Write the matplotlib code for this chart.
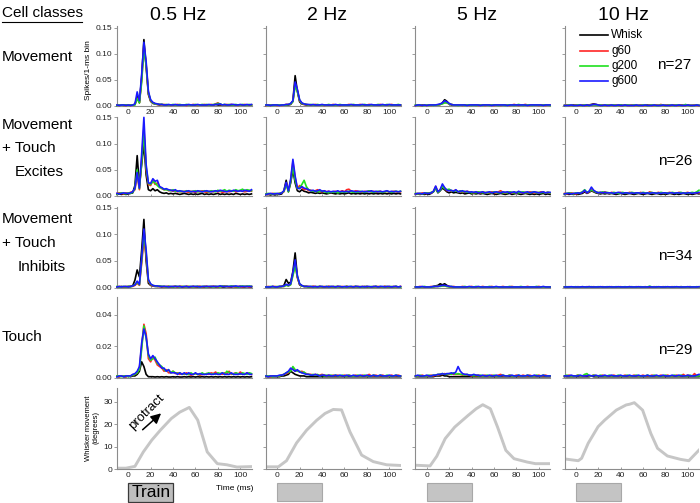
import numpy as np
import matplotlib
matplotlib.use('Agg')
import matplotlib.pyplot as plt
from matplotlib.patches import Rectangle
from matplotlib.lines import Line2D
import matplotlib.transforms as mtransforms

plt.rcParams['font.family'] = ['Liberation Sans', 'DejaVu Sans']

# ---------------- labels ----------------
freq_titles = ['0.5 Hz', '2 Hz', '5 Hz', '10 Hz']
series_names = ['Whisk', 'g60', 'g200', 'g600']
series_colors = ['#000000', '#ff2626', '#1fe01f', '#1a1aff']
cell_counts = [27, 26, 34, 29]
x_ticks = [0, 20, 40, 60, 80, 100]
train_start, train_end = 0, 40

# PSTH time bins (ms) and values in units of 0.001 spikes / 1-ms bin
time_ms = np.arange(-10, 111, 2)
psth_unit = 1e-3

# ---- Movement cells ----
mov05_whisk = [1,2,1,1,2,1,2,1,3,18, 6,55,127,75,22,9,5,4,3,2, 3,2,2,1,2,2,1,2,1,2,
               1,2,1,2,1,1,2,1,2,1, 2,1,2,2,3,2,2,1,2,1, 2,1,1,2,1,2,1,1,2,1,2]
mov05_g60 = [2,1,2,1,1,2,1,2,3,15, 7,50,115,80,25,10,6,4,3,3, 2,3,2,2,1,2,2,3,2,2,
             2,1,2,2,3,2,1,2,2,3, 2,2,3,2,4,6,3,2,2,3, 2,3,2,2,1,2,2,3,2,2,2]
mov05_g200 = [1,2,2,1,2,1,2,2,2,14, 6,45,110,78,26,11,6,4,4,3, 3,2,3,2,2,3,2,2,3,2,
              2,3,2,2,2,3,2,2,3,2, 3,2,2,3,3,5,4,2,3,2, 3,2,2,3,2,2,3,2,2,3,2]
mov05_g600 = [2,1,2,2,1,2,1,2,4,27, 10,60,122,85,28,12,7,5,4,3, 3,2,2,3,2,2,3,2,2,2,
              2,2,3,2,2,2,3,2,2,2, 2,3,2,2,3,3,4,2,3,2, 2,3,3,2,2,3,2,2,3,2,3]

mov2_whisk = [1,1,2,1,1,2,1,1,2,2, 2,3,10,58,28,8,4,3,2,2, 2,1,2,2,1,2,1,2,1,1,
              2,1,1,2,1,2,1,1,2,1, 1,2,1,1,2,1,1,2,1,1, 2,1,1,2,1,1,2,1,2,1,1]
mov2_g60 = [1,2,1,2,2,1,2,1,2,3, 3,4,9,42,30,10,5,3,3,2, 2,2,3,2,2,2,1,2,2,2,
            3,2,2,1,2,2,2,3,2,2, 2,2,3,2,2,2,3,2,2,2, 2,3,2,2,2,2,3,2,2,2,2]
mov2_g200 = [2,1,2,1,2,2,2,2,2,2, 3,4,8,38,28,11,5,4,3,2, 3,2,2,3,2,2,2,2,3,2,
             2,2,2,3,2,2,2,2,2,3, 2,2,2,2,3,2,2,2,2,2, 3,2,2,2,3,2,2,2,2,3,2]
mov2_g600 = [2,2,1,2,2,2,1,2,2,3, 3,5,10,46,32,12,6,4,3,3, 2,3,2,2,2,3,2,2,2,2,
             2,3,2,2,2,2,2,2,3,2, 2,2,2,3,2,2,2,3,2,2, 2,2,3,2,2,3,2,2,2,2,2]

mov5_whisk = [1,1,1,2,1,1,1,2,1,2, 2,3,6,12,9,4,2,2,1,2, 1,1,2,1,1,1,2,1,1,1,
              1,2,1,1,1,2,1,1,1,2, 1,1,1,2,1,1,1,1,2,1, 1,1,2,1,1,1,1,2,1,1,1]
mov5_g60 = [1,2,1,1,2,1,2,1,2,2, 2,3,5,7,6,4,3,2,2,2, 2,1,2,2,1,2,2,2,1,2,
            2,1,2,2,2,1,2,2,1,2, 2,2,1,2,3,2,1,2,2,3, 2,1,2,2,2,1,2,2,1,2,2]
mov5_g200 = [2,1,2,1,1,2,1,2,1,2, 2,3,4,6,6,4,3,2,2,1, 2,2,1,2,2,1,2,1,2,2,
             1,2,2,1,2,2,2,1,2,2, 1,2,2,2,1,2,3,2,1,2, 2,2,1,2,2,2,1,2,2,2,1]
mov5_g600 = [1,2,2,1,2,1,2,2,2,2, 3,4,6,10,8,5,3,2,2,2, 2,2,2,1,2,2,2,2,2,1,
             2,2,2,2,1,2,2,2,2,2, 2,1,2,2,2,2,2,2,2,2, 1,2,2,2,2,2,2,1,2,2,2]

mov10_whisk = [1,1,1,1,2,1,1,1,1,1, 2,2,3,4,3,2,1,1,1,1, 1,1,1,1,1,2,1,1,1,1,
               1,1,1,1,1,1,1,2,1,1, 1,1,1,1,1,1,1,1,1,1, 1,1,2,1,1,1,1,1,1,1,1]
mov10_g60 = [1,2,1,1,1,2,1,1,2,1, 1,2,2,3,2,2,1,2,1,1, 2,1,1,2,1,1,1,2,1,1,
             2,1,1,1,2,1,1,1,2,1, 1,2,1,3,1,1,2,1,1,2, 1,1,2,1,1,2,1,1,2,1,1]
mov10_g200 = [1,1,2,1,1,1,2,1,1,2, 1,1,2,2,2,1,2,1,1,2, 1,1,2,1,1,2,1,1,2,1,
              1,2,1,1,1,2,1,1,1,2, 1,1,1,2,1,1,1,2,1,1, 2,1,1,1,3,1,1,1,1,2,1]
mov10_g600 = [1,1,1,2,1,1,1,2,1,1, 2,1,2,3,3,2,1,1,2,1, 1,2,1,1,2,1,1,2,1,1,
              1,1,2,1,1,1,2,1,1,1, 2,1,1,1,2,1,1,1,2,1, 1,2,1,1,1,2,1,1,1,2,1]

# ---- Movement + Touch Excites ----
exc05_whisk = [3,4,3,4,3,4,5,6,20,77, 20,60,100,40,12,10,14,10,12,8, 6,5,6,4,5,4,5,4,3,4,
               5,4,3,4,3,4,3,4,5,3, 4,3,4,3,4,5,3,4,3,4, 3,4,3,5,4,3,4,3,4,3,4]
exc05_g60 = [5,6,5,4,6,5,7,8,12,40, 12,70,130,50,22,20,30,22,25,18, 14,12,13,10,11,9,10,8,9,8,
             9,8,7,9,8,7,9,8,10,8, 7,8,9,8,10,8,9,7,8,9, 8,9,10,8,9,10,9,8,9,10,9]
exc05_g200 = [4,5,6,5,4,6,5,7,14,50, 14,65,120,55,24,22,28,25,20,16, 15,12,12,11,10,12,9,10,8,9,
              8,10,9,8,9,10,8,9,8,10, 9,8,10,9,8,11,9,10,12,9, 11,10,9,12,10,11,13,10,12,11,10]
exc05_g600 = [5,4,5,6,5,5,6,8,15,45, 15,80,150,60,25,24,33,28,30,18, 16,13,14,12,11,10,12,9,10,9,
              8,9,10,8,9,8,10,9,8,9, 10,9,8,9,10,9,11,10,9,8, 10,9,11,10,9,10,9,11,10,9,12]

exc2_whisk = [2,3,2,3,2,3,3,4,10,30, 8,25,50,25,10,8,12,9,8,6, 7,6,5,6,5,6,5,4,5,6,
              5,4,5,4,5,4,5,6,4,5, 4,5,4,5,4,5,4,5,4,5, 4,5,4,5,4,5,4,5,4,5,4]
exc2_g60 = [4,3,4,5,4,4,5,6,8,25, 10,30,65,35,14,20,16,12,14,10, 11,9,10,12,9,8,10,8,9,7,
            8,9,7,8,10,8,12,13,9,8, 10,9,8,7,9,8,10,8,9,7, 8,9,7,8,9,7,8,9,8,7,8]
exc2_g200 = [4,5,4,4,5,4,5,6,9,22, 8,28,55,30,14,16,22,30,18,12, 10,9,10,8,9,10,8,7,6,8,
             7,8,6,7,8,7,8,9,8,7, 8,7,9,8,7,8,10,8,7,8, 9,8,7,8,9,8,7,8,9,8,9]
exc2_g600 = [3,4,5,4,4,5,4,6,10,26, 10,32,70,38,15,14,18,15,14,12, 10,11,9,10,12,9,10,8,9,8,
             9,8,10,8,9,8,9,8,10,9, 8,9,8,9,8,9,8,10,8,9, 8,9,8,9,10,8,9,8,9,8,9]

exc5_whisk = [3,4,3,4,3,4,3,5,8,15, 6,10,15,12,8,6,8,6,7,6, 5,6,4,5,6,4,5,4,5,4,
              5,4,3,4,5,4,3,4,5,4, 3,4,5,3,4,5,4,3,4,5, 4,3,4,3,4,3,4,5,3,4,3]
exc5_g60 = [4,5,4,6,5,5,6,6,9,18, 8,12,20,15,10,12,9,10,11,8, 9,8,7,9,8,7,6,8,7,6,
            8,6,7,6,8,7,6,8,10,7, 6,7,8,6,7,6,8,7,6,7, 6,8,7,6,7,6,8,7,6,7,6]
exc5_g200 = [5,4,5,4,5,6,5,7,8,16, 7,11,18,14,12,13,10,9,10,8, 10,8,9,7,8,6,7,6,8,7,
             6,7,6,7,6,8,7,6,7,6, 7,6,8,7,6,7,6,7,8,6, 7,6,7,8,6,7,6,7,6,7,6]
exc5_g600 = [4,5,5,4,6,5,5,6,9,19, 8,12,23,16,11,10,11,9,12,8, 9,10,8,9,7,8,7,8,6,7,
             8,6,7,8,6,7,8,7,6,8, 7,8,6,7,8,6,9,7,6,7, 8,6,7,8,7,6,7,8,6,7,7]

exc10_whisk = [3,4,3,4,3,4,3,4,5,8, 5,7,10,8,6,5,4,5,4,5, 4,5,4,3,4,5,4,3,4,5,
               4,3,4,5,4,3,4,5,4,3, 4,5,4,3,4,3,4,5,4,3, 4,3,4,5,4,3,4,3,4,5,4]
exc10_g60 = [5,4,5,6,5,4,5,6,7,10, 6,8,12,9,8,6,7,6,8,6, 5,7,6,5,6,7,5,6,5,7,
             6,5,6,5,7,5,6,5,8,6, 5,6,7,5,6,5,6,7,5,6, 5,7,6,5,6,7,5,6,5,7,6]
exc10_g200 = [4,5,6,5,4,6,5,6,8,12, 7,9,11,10,7,7,6,8,6,7, 6,5,7,6,5,6,7,5,6,5,
              7,6,5,6,5,7,6,5,6,7, 5,6,5,7,6,5,6,5,7,6, 5,6,7,5,6,5,6,7,6,8,11]
exc10_g600 = [4,5,5,4,5,5,6,5,7,11, 6,9,17,11,8,6,7,6,7,6, 6,6,5,6,7,6,5,6,6,5,
              6,5,6,6,5,6,5,6,5,6, 6,5,6,5,6,6,5,6,6,5, 6,6,5,6,5,6,6,5,6,6,7]

# ---- Movement + Touch Inhibits ----
inh05_whisk = [1,1,2,1,1,2,2,3,14,33, 20,70,128,50,8,4,3,2,2,2, 1,2,1,2,1,1,2,1,2,1,
               1,2,1,1,2,1,1,2,1,1, 2,1,1,2,1,1,2,1,1,2, 1,1,2,1,1,2,1,1,2,1,1]
inh05_g60 = [1,2,1,1,2,1,2,2,4,8, 4,45,90,60,12,5,3,3,2,2, 2,1,2,2,1,2,2,1,2,2,
             1,2,2,1,2,1,2,2,1,2, 2,1,2,2,2,1,2,2,3,2, 1,2,2,1,2,2,1,2,2,1,2]
inh05_g200 = [2,1,1,2,1,2,1,3,5,10, 5,50,100,65,14,6,4,3,2,3, 2,2,1,2,2,1,2,2,1,2,
              2,1,2,2,1,2,2,1,2,2, 1,2,2,1,2,2,1,3,2,2, 2,3,2,2,1,2,3,2,2,3,2]
inh05_g600 = [1,2,1,2,2,1,2,3,5,12, 6,55,110,70,15,7,4,3,3,2, 2,2,2,1,2,2,2,2,2,1,
              2,2,1,2,2,2,2,1,2,2, 2,2,2,2,2,2,3,2,2,2, 2,2,2,3,2,2,2,2,2,2,2]

inh2_whisk = [1,1,1,2,1,1,2,2,4,15, 8,10,30,65,20,5,3,2,2,1, 1,2,1,1,2,1,1,1,2,1,
              1,1,2,1,1,1,2,1,1,1, 2,1,1,1,2,1,1,1,1,2, 1,1,1,2,1,1,1,1,2,1,1]
inh2_g60 = [1,2,1,1,2,1,1,2,2,5, 3,6,25,45,18,6,3,2,2,2, 1,2,2,1,2,1,2,1,2,1,
            2,1,2,1,2,1,2,1,1,2, 1,2,1,2,1,2,1,1,2,1, 2,1,1,2,1,2,1,2,1,1,2]
inh2_g200 = [1,1,2,1,1,2,1,2,2,4, 3,5,22,40,20,7,3,2,2,1, 2,1,1,2,1,2,1,2,1,2,
             1,2,1,2,1,1,2,1,2,1, 2,1,2,1,1,2,1,2,1,2, 1,2,1,1,2,1,2,1,2,1,1]
inh2_g600 = [1,1,1,2,1,1,2,2,3,6, 4,7,28,52,22,7,4,2,2,2, 2,1,2,1,2,2,1,2,1,2,
             2,1,2,2,1,2,1,2,2,1, 2,2,1,2,1,2,2,1,2,2, 1,2,2,1,2,2,1,2,2,1,2]

inh5_whisk = [1,1,1,1,1,1,1,1,2,3, 4,7,5,7,4,2,1,1,1,1, 1,1,1,1,1,1,1,1,1,1,
              1,1,1,1,1,1,1,1,1,1, 1,1,1,1,1,1,1,1,1,1, 1,1,1,1,1,1,1,1,1,1,1]
inh5_g60 = [1,1,2,1,1,1,1,2,1,2, 2,3,3,3,2,2,1,2,1,1, 1,2,1,1,1,2,1,1,1,1,
            2,1,1,1,2,1,1,1,1,2, 1,1,1,2,1,1,1,1,1,1, 2,1,1,1,1,2,1,1,1,1,1]
inh5_g200 = [1,1,1,1,2,1,1,1,1,2, 2,2,3,3,2,1,2,1,1,1, 1,1,2,1,1,1,1,2,1,1,
             1,1,1,2,1,1,1,1,1,1, 1,1,2,1,1,1,1,2,1,1, 1,1,1,1,2,1,1,1,1,1,1]
inh5_g600 = [1,1,1,2,1,1,1,1,2,2, 2,3,4,4,3,2,2,1,1,1, 1,1,1,1,2,1,1,1,2,1,
             1,1,1,1,1,1,2,1,1,1, 1,1,1,1,1,1,1,1,1,1, 1,1,1,1,1,1,1,2,1,1,1]

inh10_whisk = [1,0.5,1,1,0.5,1,1,0.5,1,1, 1,1.5,1,1,0.5,1,1,0.5,1,1, 0.5,1,1,0.5,1,1,0.5,1,1,0.5,
               1,1,0.5,1,1,0.5,1,1,0.5,1, 1,0.5,1,1,0.5,1,1,0.5,1,1, 0.5,1,1,0.5,1,1,0.5,1,1,0.5,1]
inh10_g60 = [1,1,1.5,1,1,1,1.5,1,1,1, 1.5,1,1,1.5,1,1,1,1.5,1,1, 1,1.5,1,1,1,1.5,1,1,1,1.5,
             1,1,1.5,1,1,1,1.5,1,1,1, 1.5,1,1,1,1.5,1,1,1,1.5,1, 1,1,1.5,1,1,1,1.5,1,1,1,1]
inh10_g200 = [1,1.5,1,1,1,1.5,1,1,1.5,1, 1,1,1.5,1,1,1.5,1,1,1,1.5, 1,1,1,1.5,1,1,1,1.5,1,1,
              1.5,1,1,1,1.5,1,1,1,2.5,1, 1,1.5,1,1,1,1.5,1,1,1,1.5, 1,1,1.5,1,1,1,1.5,1,1,1.5,1]
inh10_g600 = [1,1,1,1.5,1,1,1,1,1.5,1, 1,1.5,1,1,1,1,1.5,1,1,1, 1.5,1,1,1,1.5,1,1,1,1,1.5,
              1,1,1,1.5,1,1,1,1,1.5,1, 1,1,1.5,1,1,1,1.5,1,1,1, 1.5,1,1,1,1,1.5,1,1,1,1,1.5]

# ---- Touch cells ----
tch05_whisk = [0.5,0.5,1,0.5,0.5,1,0.5,1,1,2, 4,10,7,2,0.5,0.5,0.5,0.3,0.5,0.3,
               0.5,0.3,0.5,0.3,0.3,0.5,0.3,0.5,0.3,0.3, 0.5,0.3,0.5,0.3,0.5,0.3,0.5,0.3,0.5,0.3,
               0.5,0.3,0.5,0.3,0.5,0.3,0.5,0.3,0.5,0.3, 0.5,0.3,0.5,0.3,0.5,0.3,0.5,0.3,0.5,0.3,0.5]
tch05_g60 = [1,0.5,1,1,0.5,1,1,1.5,2,3, 6,20,34,28,12,10,13,11,8,7, 6,4,5,3,3,4,2.5,3,2,2.5,
             2,3,2,1.5,2,2.5,2,1.5,2,2, 2.5,2,3,2.5,3.5,2,2.5,2,3,2.5, 4,2,2.5,3,2,3.5,2.5,2,3,2.5,2]
tch05_g200 = [1,1,0.5,1,1,0.5,1,1.5,2,3, 5,18,33,25,14,11,12,13,9,8, 7,5,4,5,3,4,3,2.5,3,2,
              2.5,2,2,3,2,2.5,2,2,3,2, 2.5,3,2,2.5,2,3,2.5,3,2,4, 3,2.5,2,3,2.5,2,3,2.5,2,3,2.5]
tch05_g600 = [0.5,1,1,0.5,1,1,1,2,2.5,4, 7,22,31,26,15,12,14,12,10,8, 6,6,4,5,3,3,3,2,3,2,
              3,2,3,2,2,3,2,2.5,2,2, 2,2.5,2,2,2.5,2,2,3,2,2, 2,3,2,2,2,2.5,2,2,3,2,2]

tch2_whisk = [0.5,0.5,0.5,0.5,0.5,0.5,0.5,1,1,1.5, 2,4,3,2,1.5,1,1,1,0.5,0.5,
              0.5,0.5,0.5,0.5,0.5,0.5,0.5,0.5,0.5,0.5, 0.5,0.5,0.5,0.5,0.5,0.5,0.5,0.5,0.5,0.5,
              0.5,0.5,0.5,0.5,0.5,0.5,0.5,0.5,0.5,0.5, 0.5,0.5,0.5,0.5,0.5,0.5,0.5,0.5,0.5,0.5,0.5]
tch2_g60 = [1,1,0.5,1,1,1,1,1.5,2,2.5, 3,5,6,4,4.5,3.5,4,3,2.5,2, 2,1.5,2,1.5,1.5,2,1.5,1,1.5,1,
            1.5,1,1.5,1,1,1.5,1,1.5,1,1, 1.5,1,1,1.5,1,1,2,1,1,1.5, 1,1,1.5,1,1,1,1.5,1,1,1.5,1]
tch2_g200 = [1,1,1,0.5,1,1,1,1.5,2,3, 3.5,4,7,5,4,4,3,3.5,2,2, 1.5,2,1.5,2,1,1.5,1,1.5,1,1.5,
             1,1.5,1,1,1.5,1,1,1.5,1,1, 1,1.5,1,1,1.5,1,1,1,1.5,1, 1,1.5,1,1,1.5,1,1,1,1.5,1,1]
tch2_g600 = [1,0.5,1,1,1,1,1.5,1.5,2,3, 4,6,5,4,5,3.5,3,2.5,2,2, 1.5,1.5,2,1.5,1,1.5,1.5,1,1.5,1,
             1,1.5,1,1.5,1,1,1.5,1,1,1.5, 1,1,1.5,1,1,1.5,1,1,1.5,1, 1,1.5,1,1,1,1.5,1,1,1.5,1,1]

tch5_whisk = [0.5,0.5,0.5,0.5,0.5,0.5,0.5,0.5,0.5,1, 1,1,1.5,1,1,0.5,0.5,0.5,0.5,0.5,
              0.5,0.5,0.5,0.5,0.5,0.5,0.5,0.5,0.5,0.5, 0.5,0.5,0.5,0.5,0.5,0.5,0.5,0.5,0.5,0.5,
              0.5,0.5,0.5,0.5,0.5,0.5,0.5,0.5,0.5,0.5, 0.5,0.5,0.5,0.5,0.5,0.5,0.5,0.5,0.5,0.5,0.5]
tch5_g60 = [1,1,1,1.5,1,1,1,1.5,1,1.5, 1.5,2,2,2.5,2,2,2.5,2,2,2, 2,1.5,2,1.5,1.5,1,1.5,1,1.5,1,
            1,1.5,1,1,1.5,1,1,1.5,2,1, 1,1,1.5,1,1,1.5,1,1,1.5,1, 1,1.5,1,1,1,1.5,1,1,1.5,1,1]
tch5_g200 = [1,1,1.5,1,1,1,1.5,1,1.5,1.5, 2,2,2.5,2,2,2.5,2,3,2,2.5, 2,2,1.5,2,1.5,1.5,1,1.5,1,1.5,
             1,1,1.5,1,1,1.5,1,1,1,1.5, 1,1,1.5,1,1,1,1.5,1,1,1, 1.5,1,1,1,1.5,1,1,1.5,1,1,1]
tch5_g600 = [1,1.5,1,1,1,1.5,1,1,1.5,1.5, 2,2,2.5,2,2.5,2.5,3,2.5,3.5,7, 4,2.5,2,2,1.5,1.5,2,1.5,1.5,1,
             1.5,1,1,1.5,1,1,1.5,1,1,1.5, 1,1,1,1.5,1,1,1.5,1,1,1, 1.5,1,1,1.5,1,1,1,1.5,1,1,1]

tch10_whisk = [0.5,0.5,0.5,0.5,0.5,0.5,0.5,0.5,0.5,0.5, 0.5,0.5,1,0.5,0.5,0.5,0.5,0.5,0.5,0.5,
               0.5,0.5,0.5,0.5,0.5,0.5,0.5,0.5,0.5,0.5, 0.5,0.5,0.5,0.5,0.5,0.5,0.5,0.5,0.5,0.5,
               0.5,0.5,0.5,0.5,0.5,0.5,0.5,0.5,0.5,0.5, 0.5,0.5,0.5,0.5,0.5,0.5,0.5,0.5,0.5,0.5,0.5]
tch10_g60 = [1,1,1.5,1,1,1,1.5,1,1,1, 1.5,1,1,1.5,1,1,1,1.5,1,1, 1,1,1.5,1,1,1,1,1.5,1,1,
             1,1.5,1,1,1,1.5,1,1,1,1.5, 1,1,1,1.5,1,1,1.5,1,1,1, 1.5,1,1,2,1,1.5,1,1,2.5,1,1.5]
tch10_g200 = [1,1.5,1,1,1,1,1.5,1,1,2, 2.5,1,1,1.5,1,1,1.5,1,1,1, 1.5,1,1,1,1.5,1,1,1,1.5,1,
              1,1,1.5,1,1,1,1,1.5,1,1, 1.5,1,1,1,1,1.5,1,1,1,1.5, 1,1,1.5,1,1,1,1.5,1,1,1,1]
tch10_g600 = [1,1,1,1.5,1,1,1,1.5,1,1, 1,1.5,1,1,1.5,1,1,1,1.5,1, 1,1.5,1,1,1,1.5,1,1,1,1.5,
              1,1,1,1.5,1,1,1,1.5,1,1, 1,1.5,1,1,1.5,1,1,1,1.5,1, 1,1.5,1,1,1,1.5,1,1,1,1.5,2]

# ---- Whisker movement (degrees) ----
whisk05_t = [-10, -2, 6, 13.5, 21, 29, 38.5, 46, 54.5, 62, 70.5, 79.5, 88, 97, 110]
whisk05_deg = [0.5, 0.5, 1.3, 7.7, 12.9, 17.5, 22.5, 25.3, 27.4, 21.8, 7.7, 2.5, 2.0, 1.0, 1.2]
whisk2_t = [-10, 1, 8.3, 17.3, 26.2, 35.2, 42.6, 50, 57.4, 64.9, 75.3, 85.7, 97.6, 110]
whisk2_deg = [1.1, 1.1, 3.8, 11.7, 17.3, 21.7, 24.7, 26.5, 26.3, 16.6, 6.3, 3.4, 2.0, 1.7]
whisk5_t = [-10, 3, 9, 16.5, 25, 36.8, 44.1, 50, 56.8, 63.2, 70.6, 77.9, 89.7, 97, 110]
whisk5_deg = [1.8, 1.5, 5.8, 13.6, 18.7, 23.8, 26.8, 28.6, 26.8, 18.7, 8.4, 4.7, 3.2, 2.5, 2.5]
whisk10_t = [-10, 2.3, 5.3, 11.1, 20, 25.9, 36.2, 45, 48, 52.3, 59.7, 67, 73, 81.8, 93.5, 100.9, 110]
whisk10_deg = [4.6, 3.8, 4.9, 11.5, 18.9, 21.8, 26.2, 28.5, 28.8, 29.5, 26.2, 15.9, 9.3, 5.9, 4.4, 3.8, 8.5]

psth_rows = [
    [[mov05_whisk, mov05_g60, mov05_g200, mov05_g600], [mov2_whisk, mov2_g60, mov2_g200, mov2_g600],
     [mov5_whisk, mov5_g60, mov5_g200, mov5_g600], [mov10_whisk, mov10_g60, mov10_g200, mov10_g600]],
    [[exc05_whisk, exc05_g60, exc05_g200, exc05_g600], [exc2_whisk, exc2_g60, exc2_g200, exc2_g600],
     [exc5_whisk, exc5_g60, exc5_g200, exc5_g600], [exc10_whisk, exc10_g60, exc10_g200, exc10_g600]],
    [[inh05_whisk, inh05_g60, inh05_g200, inh05_g600], [inh2_whisk, inh2_g60, inh2_g200, inh2_g600],
     [inh5_whisk, inh5_g60, inh5_g200, inh5_g600], [inh10_whisk, inh10_g60, inh10_g200, inh10_g600]],
    [[tch05_whisk, tch05_g60, tch05_g200, tch05_g600], [tch2_whisk, tch2_g60, tch2_g200, tch2_g600],
     [tch5_whisk, tch5_g60, tch5_g200, tch5_g600], [tch10_whisk, tch10_g60, tch10_g200, tch10_g600]],
]
whisk_t = [whisk05_t, whisk2_t, whisk5_t, whisk10_t]
whisk_deg = [whisk05_deg, whisk2_deg, whisk5_deg, whisk10_deg]

# ---------------- layout (pixels of a 700x503 canvas) ----------------
W, H = 700, 503
fig = plt.figure(figsize=(7.0, 5.03), dpi=100)

def fx(px):
    return px / W

def fy(py):
    return 1 - py / H

col_left = [117, 266, 415.5, 564.5]
col_w = 134.5
row_top = [26, 117, 207, 297, 388]
row_bot = [106, 196, 287.5, 377.5, 469.3]
row_ylim = [(0, 0.153), (0, 0.1507), (0, 0.1513), (0, 0.0514), (0, 36)]
row_yticks = [[0, 0.05, 0.10, 0.15]] * 3 + [[0, 0.02, 0.04], [0, 10, 20, 30]]
spine_gray = '#8c8c8c'

axes = [[None] * 4 for _ in range(5)]
for r in range(5):
    for c in range(4):
        ax = fig.add_axes([fx(col_left[c]), fy(row_bot[r]), col_w / W, (row_bot[r] - row_top[r]) / H])
        axes[r][c] = ax
        ax.set_xlim(-10, 110)
        ax.set_ylim(*row_ylim[r])
        for s in ['top', 'right']:
            ax.spines[s].set_visible(False)
        for s in ['left', 'bottom']:
            ax.spines[s].set_color(spine_gray)
            ax.spines[s].set_linewidth(0.8)
        ax.set_xticks(x_ticks)
        ax.set_yticks(row_yticks[r])
        ax.tick_params(axis='y', direction='out', length=2.2, width=0.6, color=spine_gray,
                       labelsize=6, pad=1, labelcolor='#222222')
        ax.tick_params(axis='x', direction='in', length=1.5, width=0.6, color=spine_gray,
                       labelsize=6, pad=2, labelcolor='#222222')
        if r in (0, 4):
            ax.set_xticklabels([str(v) for v in x_ticks])
        else:
            ax.set_xticklabels([])
        if c == 0:
            if r < 4:
                ax.set_yticklabels(['%.2f' % v for v in row_yticks[r]])
            else:
                ax.set_yticklabels([str(v) for v in row_yticks[r]])
        else:
            ax.set_yticklabels([])
        ax.patch.set_alpha(0)

        if r < 4:
            for k in range(4):
                vals = np.asarray(psth_rows[r][c][k], dtype=float) * psth_unit
                ax.plot(time_ms, vals, color=series_colors[k], lw=1.2, solid_joinstyle='round',
                        clip_on=False, zorder=2 + k)
        else:
            ax.plot(whisk_t[c], whisk_deg[c], color='#c6c6c6', lw=2.1, solid_joinstyle='round')

# ---------------- text ----------------
fig.text(fx(2), fy(13), 'Cell classes', fontsize=11, ha='left', va='center')
fig.add_artist(Line2D([fx(2), fx(82)], [fy(22), fy(22)], color='black', lw=0.8))

title_x = [178, 327, 477, 624]
for c in range(4):
    fig.text(fx(title_x[c]), fy(15), freq_titles[c], fontsize=14, ha='center', va='center')

fig.text(fx(2), fy(57), 'Movement', fontsize=11, ha='left', va='center')
fig.text(fx(2), fy(125), 'Movement', fontsize=11, ha='left', va='center')
fig.text(fx(2), fy(148), '+ Touch', fontsize=11, ha='left', va='center')
fig.text(fx(15), fy(172), 'Excites', fontsize=11, ha='left', va='center')
fig.text(fx(2), fy(219), 'Movement', fontsize=11, ha='left', va='center')
fig.text(fx(2), fy(243), '+ Touch', fontsize=11, ha='left', va='center')
fig.text(fx(18), fy(267), 'Inhibits', fontsize=11, ha='left', va='center')
fig.text(fx(2), fy(337), 'Touch', fontsize=11, ha='left', va='center')

n_pos = [(674, 65), (675, 161), (675, 256), (675, 350)]
for (px, py), n in zip(n_pos, cell_counts):
    fig.text(fx(px), fy(py), 'n=%d' % n, fontsize=11, ha='center', va='center')

# legend (manual, inside top-right panel)
leg_y = [35, 50.7, 66, 81]
for k in range(4):
    fig.add_artist(Line2D([fx(580), fx(608)], [fy(leg_y[k]), fy(leg_y[k])],
                          color=series_colors[k], lw=1.2))
    fig.text(fx(611), fy(leg_y[k]), series_names[k], fontsize=8.5, ha='left', va='center')

fig.text(fx(89), fy(70), 'Spikes/1-ms bin', fontsize=6, rotation=90, ha='center', va='center')
fig.text(fx(92), fy(428), 'Whisker movement\n(degrees)', fontsize=5.5, rotation=90,
         ha='center', va='center', multialignment='center', linespacing=1.1)
fig.text(fx(235), fy(488), 'Time (ms)', fontsize=6, ha='center', va='center')

# protract arrow
axw = axes[4][0]
axw.annotate('', xy=(31.2, 25.6), xytext=(11, 16.7),
             arrowprops=dict(arrowstyle='-|>,head_length=0.6,head_width=0.3', color='black', lw=1.1))
axw.text(16.4, 25.6, 'protract', fontsize=9.5, rotation=45, ha='center', va='center')

# stimulus train boxes
for c in range(4):
    ax = axes[4][c]
    trans = mtransforms.blended_transform_factory(ax.transData, fig.transFigure)
    if c == 0:
        rect = Rectangle((train_start, fy(501.5)), train_end - train_start, (501.5 - 483) / H,
                         transform=trans, facecolor='#bdbdbd', edgecolor='#3a3a3a', lw=0.9,
                         clip_on=False)
        fig.add_artist(rect)
        fig.text(fx(151), fy(492.5), 'Train', fontsize=12.5, ha='center', va='center')
    else:
        rect = Rectangle((train_start, fy(501)), train_end - train_start, (501 - 483) / H,
                         transform=trans, facecolor='#c4c4c4', edgecolor='#a8a8a8', lw=0.8,
                         clip_on=False)
        fig.add_artist(rect)

fig.savefig('out.png', dpi=100)
